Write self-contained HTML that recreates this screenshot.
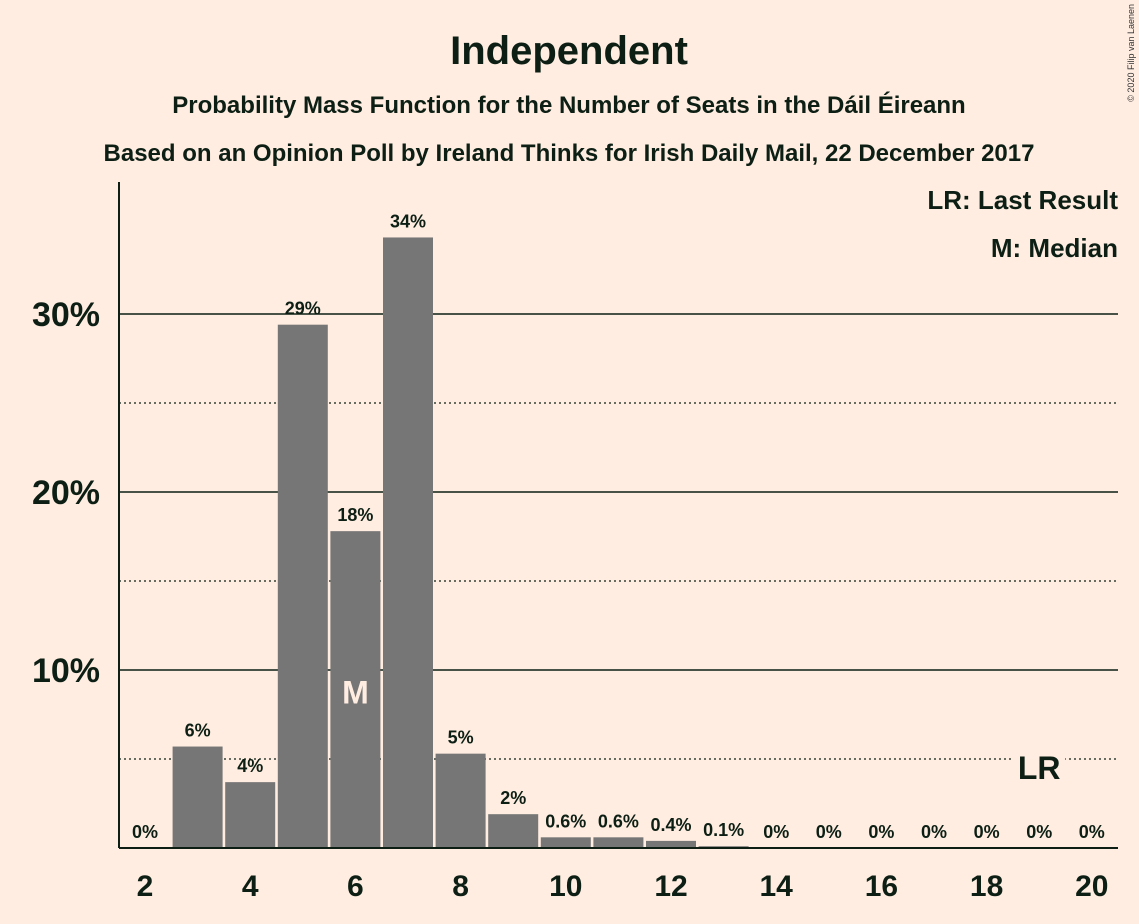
<!DOCTYPE html>
<html><head><meta charset="utf-8"><style>
body{margin:0;background:#FFEDE1;}
svg{display:block;font-family:"Liberation Sans",sans-serif;}
</style></head><body>
<svg id="chart" width="1139" height="924">
<rect width="1139" height="924" fill="#FFEDE1"/>
<text x="569" y="64" text-anchor="middle" font-size="40" font-weight="bold" fill="#0d1f14">Independent</text>
<text x="569" y="113" text-anchor="middle" font-size="24" font-weight="bold" fill="#0d1f14">Probability Mass Function for the Number of Seats in the Dáil Éireann</text>
<text x="569" y="161" text-anchor="middle" font-size="24" font-weight="bold" fill="#0d1f14">Based on an Opinion Poll by Ireland Thinks for Irish Daily Mail, 22 December 2017</text>
<text x="1134" y="4" transform="rotate(-90 1134 4)" text-anchor="end" font-size="9" fill="#333">© 2020 Filip van Laenen</text>
<text x="1118" y="209" text-anchor="end" font-size="26" font-weight="bold" fill="#0d1f14">LR: Last Result</text>
<text x="1118" y="257" text-anchor="end" font-size="26" font-weight="bold" fill="#0d1f14">M: Median</text>
<g id="grid"></g>
<g id="bars"></g>
<g id="xt"></g>
<line x1="119" y1="182" x2="119" y2="848" stroke="#0d1f14" stroke-width="2"/>
<line x1="119" y1="848" x2="1118" y2="848" stroke="#0d1f14" stroke-width="2"/>
</svg>
<script>
const seats=[2,3,4,5,6,7,8,9,10,11,12,13,14,15,16,17,18,19,20];
const probs=[0,5.7,3.7,29.4,17.8,34.3,5.3,1.9,0.6,0.6,0.4,0.1,0,0,0,0,0,0,0];
const labels=["0%","6%","4%","29%","18%","34%","5%","2%","0.6%","0.6%","0.4%","0.1%","0%","0%","0%","0%","0%","0%","0%"];
const yTicks=[10,20,30];
const yMinor=[5,15,25];
const xTicks=[2,4,6,8,10,12,14,16,18,20];
const median=6, lastResult=19;
const NS="http://www.w3.org/2000/svg";
const X=s=>145+(s-2)*52.6;
const Y=v=>848-v*17.8;
function mk(t,a,p){const e=document.createElementNS(NS,t);for(const k in a)e.setAttribute(k,a[k]);p.appendChild(e);return e;}
const g=document.getElementById('grid');
yMinor.forEach(v=>{const l=mk('line',{x1:119,x2:1118,y1:Y(v),y2:Y(v),stroke:'#0d1f14','stroke-width':1.3,'stroke-dasharray':'2,3'},g);

});
yTicks.forEach(v=>{const l=mk('line',{x1:119,x2:1118,y1:Y(v),y2:Y(v),stroke:'#0d1f14','stroke-width':1.5},g);


const t=mk('text',{x:100,y:Y(v)+12,'text-anchor':'end','font-size':34,'font-weight':'bold',fill:'#0d1f14'},g);t.textContent=v+'%';

});
const b=document.getElementById('bars');
seats.forEach((s,i)=>{const v=probs[i];
if(v>0){const r=mk('rect',{x:X(s)-25,y:Y(v),width:50,height:848-Y(v),fill:'#767676'},b);

}
const t=mk('text',{x:X(s),y:Y(v)-10,'text-anchor':'middle','font-size':18,'font-weight':'bold',fill:'#0d1f14'},b);t.textContent=labels[i];


if(s===median){const m=mk('text',{x:X(s),y:Y(v/2)+14,'text-anchor':'middle','font-size':32,'font-weight':'bold',fill:'#FFEDE1'},b);m.textContent='M';

}
if(s===lastResult){const bg=mk('rect',{x:X(s)-26,y:Y(5)-5,width:52,height:12,fill:'#FFEDE1'},b);


const m=mk('text',{x:X(s),y:Y(5)+20,'text-anchor':'middle','font-size':32,'font-weight':'bold',fill:'#0d1f14'},b);m.textContent='LR';

}
});
const xt=document.getElementById('xt');
xTicks.forEach(s=>{const t=mk('text',{x:X(s),y:896,'text-anchor':'middle','font-size':30,'font-weight':'bold',fill:'#0d1f14'},xt);t.textContent=s;

});
</script>
</body></html>
